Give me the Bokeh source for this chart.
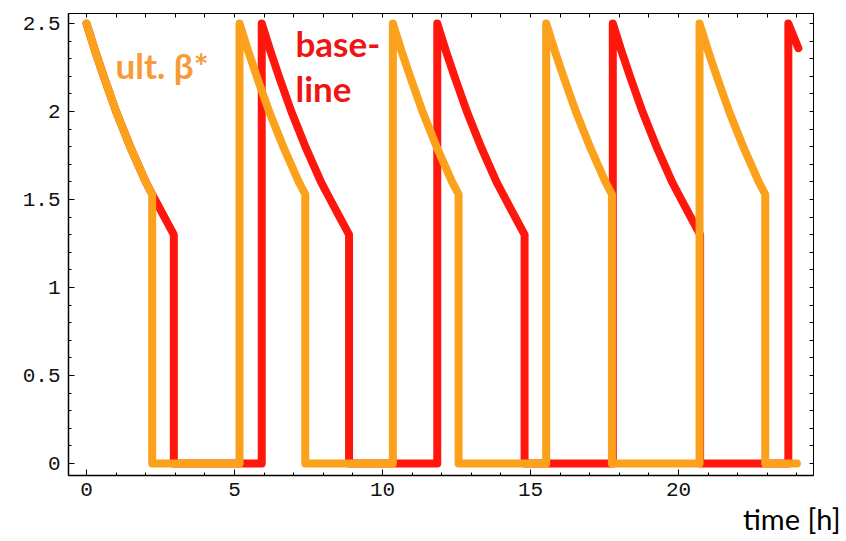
from bokeh.plotting import figure
from bokeh.models import Range1d, FixedTicker, LinearAxis, Label, NumeralTickFormatter, Title
from bokeh.embed import file_html
from bokeh.resources import INLINE

# ---- data ----
baseline_t = [0, 0.3, 0.6, 1.0, 1.5, 2.0, 2.22, 2.6, 2.95, 2.95,
              5.92, 5.92, 6.22, 6.52, 6.92, 7.42, 7.92, 8.14, 8.52, 8.87, 8.87,
              11.85, 11.85, 12.15, 12.45, 12.85, 13.35, 13.85, 14.07, 14.45, 14.8, 14.8,
              17.78, 17.78, 18.08, 18.38, 18.78, 19.28, 19.78, 20.0, 20.38, 20.73, 20.73,
              23.71, 23.71, 24.05]
baseline_v = [2.5, 2.34, 2.19, 2.0, 1.79, 1.60, 1.53, 1.41, 1.30, 0,
              0, 2.5, 2.34, 2.19, 2.0, 1.79, 1.60, 1.53, 1.41, 1.30, 0,
              0, 2.5, 2.34, 2.19, 2.0, 1.79, 1.60, 1.53, 1.41, 1.30, 0,
              0, 2.5, 2.34, 2.19, 2.0, 1.79, 1.60, 1.53, 1.41, 1.30, 0,
              0, 2.5, 2.36]

ult_t = [0, 0.3, 0.6, 1.0, 1.5, 2.0, 2.22, 2.22,
         5.17, 5.17, 5.47, 5.77, 6.17, 6.67, 7.17, 7.39, 7.39,
         10.35, 10.35, 10.65, 10.95, 11.35, 11.85, 12.35, 12.57, 12.57,
         15.53, 15.53, 15.83, 16.13, 16.53, 17.03, 17.53, 17.75, 17.75,
         20.71, 20.71, 21.01, 21.31, 21.71, 22.21, 22.71, 22.93, 22.93, 24.0]
ult_v = [2.5, 2.34, 2.19, 2.0, 1.79, 1.60, 1.53, 0,
         0, 2.5, 2.34, 2.19, 2.0, 1.79, 1.60, 1.53, 0,
         0, 2.5, 2.34, 2.19, 2.0, 1.79, 1.60, 1.53, 0,
         0, 2.5, 2.34, 2.19, 2.0, 1.79, 1.60, 1.53, 0,
         0, 2.5, 2.34, 2.19, 2.0, 1.79, 1.60, 1.53, 0, 0]

x_ticks = [0, 5, 10, 15, 20]
x_minor = list(range(0, 25))
y_ticks = [0, 0.5, 1, 1.5, 2, 2.5]
y_minor = [i / 10 for i in range(0, 26)]

RED = "#FF160C"
ORANGE = "#FBA11B"

p = figure(width=846, height=541, output_backend="svg", toolbar_location=None,
           x_range=Range1d(-0.608, 24.56), y_range=Range1d(-0.068, 2.557),
           min_border_left=68, min_border_right=33, min_border_top=13,
           min_border_bottom=66)
p.grid.visible = False
p.outline_line_color = "black"
p.outline_line_width = 1
p.background_fill_color = "white"
p.border_fill_color = "white"

p.line(baseline_t, baseline_v, line_color=RED, line_width=8,
       line_join="round", line_cap="round")
p.line(ult_t, ult_v, line_color=ORANGE, line_width=8,
       line_join="round", line_cap="round")

def style(ax, ticks, minor):
    ax.ticker = FixedTicker(ticks=ticks, minor_ticks=minor)
    ax.major_tick_in = 6
    ax.major_tick_out = 0
    ax.minor_tick_in = 3
    ax.minor_tick_out = 0
    ax.axis_line_color = "black"
    ax.axis_line_width = 1.5
    ax.major_tick_line_color = "black"
    ax.minor_tick_line_color = "black"
    ax.major_label_text_font = "Liberation Mono"
    ax.major_label_text_font_size = "21px"
    ax.major_label_text_color = "#111111"
    ax.major_label_standoff = 7

style(p.xaxis[0], x_ticks, x_minor)
style(p.yaxis[0], y_ticks, y_minor)
p.yaxis[0].formatter = NumeralTickFormatter(format="0.[0]")
p.yaxis[0].major_label_standoff = 8

# frame axes on top / right: ticks only (all as minor ticks, so no labels)
top = LinearAxis()
style(top, [], x_minor)
top.minor_tick_in = 4
top.axis_line_width = 1
p.add_layout(top, "above")
right = LinearAxis()
style(right, [], y_minor)
right.minor_tick_in = 4
right.axis_line_width = 1
p.add_layout(right, "right")

p.add_layout(Label(x=0.98, y=2.262, text="ult. β*", text_font="Lato",
                   text_font_style="bold", text_font_size="35px",
                   text_color="#F79A38", text_baseline="alphabetic"))
p.add_layout(Label(x=7.06, y=2.387, text="base-", text_font="Lato",
                   text_font_style="bold", text_font_size="35px",
                   text_color="#EE1515", text_baseline="alphabetic"))
p.add_layout(Label(x=7.06, y=2.131, text="line", text_font="Lato",
                   text_font_style="bold", text_font_size="35px",
                   text_color="#EE1515", text_baseline="alphabetic"))

p.add_layout(Title(text="time [h]", align="right", offset=-27,
                   text_font="Lato", text_font_size="29px",
                   text_font_style="normal", text_color="black",
                   standoff=0), "below")

open("out.html", "w").write(file_html(p, INLINE))
